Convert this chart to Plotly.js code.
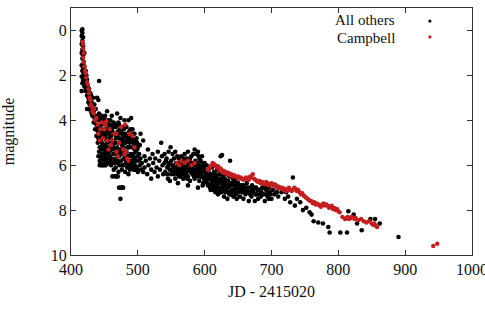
<!DOCTYPE html>
<html>
<head>
<meta charset="utf-8">
<script src="https://cdn.plot.ly/plotly-3.0.1.min.js"></script>
<style>html,body{margin:0;padding:0;background:#fff;}#chart{width:485px;height:310px;}</style>
</head>
<body>
<div id="chart"></div>
<script>
// ---- Data: [JD - 2415020, magnitude] ----
const othersRise = [[416,0.0],[417,-0.05],[417,0.1],[416,0.25],[418,0.3],[417,0.45],[416,0.6],[418,0.7],[417,0.85],[416,1.0],[418,1.1],[417,1.25],[419,1.4],[416,1.55],[418,1.65],[417,1.8],[419,1.9],[416,2.05],[418,2.2],[417,2.35],[416,2.7],[420,1.0],[420,1.6],[421,2.0],[420,2.5],[422,1.8],[422,2.3],[423,2.6],[424,2.2],[424,2.9],[425,2.5],[426,2.8],[426,3.2],[427,2.6],[428,3.0],[428,3.5],[429,3.3],[430,2.9],[430,3.6],[431,3.2],[432,3.8],[432,3.4],[433,3.0],[434,3.6],[434,4.1],[435,3.3],[436,3.9],[436,4.4],[437,3.5],[438,4.2],[438,4.7],[439,3.8],[440,4.5],[440,5.0],[441,3.1],[442,2.25],[441,4.0],[439,3.0],[424,3.5],[421,2.4],[423,2.0],[425,2.9],[427,3.1],[429,2.8],[431,3.7],[433,3.5],[435,3.9],[437,4.0],[439,4.4],[419,2.0],[420,2.2],[422,2.7],[426,3.0],[428,3.3]];
const othersDecline = [[442,3.7],[442,4.3],[442,4.9],[442,5.4],[443,5.8],[443,6.0],[444,4.0],[444,4.6],[444,5.2],[445,5.6],[445,6.0],[446,3.8],[446,4.4],[446,5.0],[447,5.5],[448,4.1],[448,4.7],[448,5.3],[448,6.0],[449,5.8],[450,3.9],[450,4.5],[450,5.1],[450,5.6],[451,4.2],[452,4.8],[452,5.4],[452,6.0],[453,4.4],[454,3.6],[454,5.0],[454,5.7],[455,4.6],[455,5.2],[456,4.0],[456,5.9],[457,4.8],[457,5.4],[458,4.3],[458,5.6],[459,5.0],[460,4.2],[460,4.7],[460,5.3],[460,6.0],[461,3.8],[461,5.7],[462,4.5],[462,5.1],[462,6.5],[463,4.9],[463,5.5],[464,4.1],[464,6.2],[465,4.6],[465,5.3],[466,5.0],[466,5.8],[466,6.5],[467,4.3],[467,6.1],[468,4.8],[468,5.5],[469,3.7],[469,5.2],[470,4.5],[470,5.9],[470,6.5],[471,5.0],[471,6.3],[472,4.2],[472,5.6],[472,7.0],[473,4.8],[473,6.0],[474,3.9],[474,5.3],[474,7.5],[475,4.5],[475,5.8],[475,7.0],[476,5.1],[476,6.2],[477,4.3],[477,5.5],[478,4.8],[478,6.0],[478,7.0],[479,5.2],[480,4.0],[480,5.7],[481,4.6],[481,6.3],[482,5.0],[482,5.9],[483,4.3],[483,5.4],[484,6.1],[485,4.8],[485,5.6],[486,5.2],[486,6.4],[487,4.5],[487,5.9],[488,5.0],[488,6.2],[489,5.5],[490,3.9],[490,4.7],[490,5.8],[491,5.2],[492,4.4],[492,6.0],[493,5.5],[494,4.9],[494,6.2],[495,4.6],[495,5.7],[496,5.1],[496,6.0],[497,5.4],[498,4.8],[498,6.1],[499,5.6],[443,4.5],[445,4.9],[447,4.0],[449,4.6],[451,5.3],[453,5.9],[455,4.1],[457,5.9],[459,4.5],[461,5.0],[463,4.3],[465,5.9],[467,5.3],[469,4.7],[471,4.1],[473,5.4],[476,4.6],[479,4.4],[481,5.4],[484,4.9],[486,4.0],[489,4.9],[491,6.1],[493,4.6],[497,6.2],[499,5.0],[444,5.9],[446,5.7],[447,6.0],[450,6.0],[452,5.75],[468,6.5],[476,7.0]];
const othersDense = [[441,4.8],[441,5.6],[443,3.9],[443,5.2],[445,4.2],[445,4.7],[445,5.3],[447,4.6],[447,5.1],[449,4.0],[449,5.2],[449,5.5],[451,3.8],[451,4.7],[451,5.9],[453,4.9],[453,5.2],[455,5.5],[455,5.9],[457,4.2],[457,4.5],[459,5.3],[459,5.8],[459,4.0],[461,4.4],[461,5.3],[463,5.2],[463,5.9],[465,4.2],[465,5.0],[467,4.7],[467,5.7],[469,4.2],[469,5.8],[471,4.6],[471,5.5],[473,4.4],[473,5.0],[475,5.0],[475,5.4],[477,4.9],[477,6.0],[479,4.7],[479,5.7],[481,5.0],[483,4.7],[483,5.8],[485,5.2],[485,6.0],[487,5.2],[487,5.6],[489,4.4],[489,6.0],[491,4.8],[491,5.6],[493,5.0],[493,5.9],[495,5.3],[495,6.1],[497,4.9],[497,5.8],[499,5.3],[499,6.2],[504,4.6],[503,5.1],[508,4.9],[542,5.8],[544,6.4],[546,6.0],[551,6.2],[554,6.4],[557,6.3],[559,6.1],[561,6.4],[563,6.3],[567,6.4],[569,5.7],[571,6.1],[572,6.5],[576,5.9],[579,6.0],[581,6.3],[584,6.5],[587,6.0],[589,6.5],[591,5.6],[593,6.5],[595,6.1],[597,5.9],[599,6.6],[603,6.4],[605,6.6],[607,6.9],[609,7.1],[611,6.7],[613,6.6],[615,7.0],[617,6.8],[619,7.1],[621,6.7],[623,7.2],[627,6.9],[629,7.0],[631,7.2],[633,6.7],[635,7.0],[637,7.3],[639,6.9],[641,6.8],[643,7.1],[645,6.9],[647,7.3],[649,6.9],[651,7.1],[657,7.0],[659,7.2],[664,7.0],[667,7.2],[674,7.0],[679,7.1],[685,7.2],[691,7.0],[697,7.2]];
const othersPlateau = [[500,5.2],[500,6.3],[501,5.8],[502,5.5],[503,6.0],[504,5.7],[505,6.2],[506,5.9],[508,6.3],[510,5.6],[510,6.1],[512,5.8],[514,6.4],[515,5.3],[516,6.0],[518,5.7],[520,6.2],[520,6.6],[522,5.5],[523,5.9],[525,6.3],[526,5.7],[528,6.1],[530,5.4],[530,6.5],[532,5.8],[533,6.2],[535,5.0],[536,5.6],[537,6.0],[538,6.4],[540,5.5],[540,5.9],[541,6.3],[543,5.7],[544,6.1],[545,6.6],[546,5.4],[547,5.9],[548,6.2],[549,5.2],[550,5.8],[550,6.4],[552,5.5],[552,6.0],[553,6.3],[554,5.7],[555,6.1],[556,5.4],[556,6.6],[557,5.9],[558,6.2],[559,5.6],[560,6.0],[560,6.4],[561,5.7],[562,6.2],[563,5.9],[564,6.5],[565,5.6],[565,6.1],[566,6.3],[567,5.8],[568,6.0],[568,6.6],[569,6.2],[570,5.5],[570,5.9],[571,6.4],[572,6.1],[573,5.7],[573,6.3],[574,6.0],[575,5.4],[575,6.5],[576,6.2],[577,5.8],[578,6.0],[578,6.7],[579,6.3],[580,5.6],[580,6.1],[581,5.9],[582,6.4],[583,5.5],[583,6.2],[584,6.0],[585,5.3],[585,6.6],[586,5.8],[587,6.3],[588,5.5],[588,6.1],[589,5.9],[590,5.4],[590,6.4],[591,6.0],[592,5.7],[592,6.7],[593,6.2],[594,5.8],[595,6.5],[596,6.0],[596,5.6],[597,6.3],[598,6.8],[599,6.1],[600,5.9],[600,6.5],[548,6.7],[560,6.8],[575,6.9],[590,7.0],[597,6.9],[562,6.5],[566,5.9],[570,6.3],[574,6.6],[578,5.7],[582,6.0],[586,6.5],[590,6.2],[594,6.4],[598,6.2]];
const othersTail = [[601,6.3],[602,6.7],[603,6.0],[604,6.5],[605,6.9],[606,6.2],[607,6.6],[608,7.0],[609,6.4],[610,6.8],[611,6.1],[612,6.5],[613,7.1],[614,6.3],[615,6.7],[616,7.2],[617,6.5],[618,6.9],[619,6.2],[620,6.6],[620,7.3],[621,7.0],[622,6.4],[623,6.8],[624,5.6],[625,6.6],[625,7.2],[626,7.0],[627,6.5],[628,6.8],[629,7.4],[630,6.6],[630,7.1],[631,6.9],[632,6.4],[633,7.0],[634,7.5],[635,6.7],[636,7.2],[637,6.5],[638,6.9],[639,7.3],[640,6.8],[641,7.1],[642,6.6],[643,7.4],[644,6.9],[645,7.2],[646,6.7],[647,7.0],[648,7.5],[650,6.8],[650,7.2],[652,7.0],[653,7.4],[655,6.9],[656,7.2],[658,7.5],[660,7.0],[661,7.3],[663,6.8],[665,7.2],[666,7.6],[668,7.0],[670,7.4],[671,6.9],[673,7.2],[675,7.6],[677,7.0],[678,7.3],[680,7.5],[682,7.1],[684,7.4],[686,7.0],[688,7.3],[690,7.6],[692,7.1],[694,7.4],[696,7.0],[698,7.3],[700,7.5],[702,7.1],[704,7.3],[604,6.8],[608,6.4],[612,6.9],[616,6.4],[618,6.6],[622,7.1],[626,6.7],[632,6.8],[636,6.9],[640,7.2],[644,6.6],[648,7.0],[654,7.1],[658,6.9],[662,7.1],[668,7.3],[672,7.1],[676,7.3],[682,7.3],[688,7.0],[692,7.3],[696,7.5],[626,5.55],[638,5.8],[706,6.9],[708,7.2],[710,7.4],[712,7.0],[715,7.2],[718,7.1],[720,7.5],[722,7.2],[725,7.4],[728,7.65],[732,6.55],[735,7.8],[738,7.5],[743,7.65],[747,8.0],[752,7.9],[757,8.1],[760,8.2],[763,8.5],[770,8.55],[777,8.6],[785,8.75],[787,9.0],[803,9.0],[813,9.0],[815,8.05],[823,8.2],[825,8.35],[828,8.6],[835,8.9],[848,8.4],[855,8.4],[862,8.6],[890,9.2]];
const campbellEarly = [[417,0.5],[418,0.6],[418,0.8],[419,1.0],[418,1.2],[419,1.4],[420,1.6],[421,1.8],[422,1.9],[423,2.1],[424,2.3],[425,2.4],[426,2.6],[427,2.8],[428,3.0],[429,3.1],[430,3.3],[431,3.4],[432,3.6],[434,3.7],[435,3.5],[436,4.0],[438,3.9],[440,4.2],[441,4.6],[443,4.9],[444,4.4],[446,4.1],[448,4.8],[450,4.4],[451,4.2],[452,4.1],[454,4.9],[456,5.3],[458,4.4],[460,5.1],[462,4.9],[465,4.6],[468,5.4],[470,5.6],[472,5.0],[475,4.3],[478,5.3],[480,5.5],[482,5.4],[484,5.7],[488,4.6],[492,4.7],[495,5.2],[481,4.2],[486,5.8],[453,4.05],[468,4.6]];
const campbellLate = [[558,5.9],[562,6.0],[565,5.8],[570,5.9],[575,5.8],[580,6.0],[585,5.9],[605,6.2],[608,6.1],[610,6.0],[612,5.9],[614,5.95],[616,6.0],[618,6.1],[620,6.05],[622,6.2],[624,6.15],[626,6.3],[628,6.25],[630,6.35],[632,6.3],[634,6.4],[636,6.35],[638,6.45],[640,6.4],[642,6.5],[644,6.45],[646,6.5],[648,6.55],[650,6.5],[652,6.6],[654,6.55],[656,6.6],[658,6.65],[660,6.6],[662,6.55],[664,6.6],[666,6.65],[668,6.5],[670,6.55],[672,6.4],[674,6.6],[676,6.65],[678,6.7],[680,6.75],[682,6.7],[684,6.8],[686,6.75],[688,6.8],[690,6.85],[692,6.75],[694,6.8],[696,6.9],[698,6.85],[700,6.8],[702,6.9],[704,6.85],[706,6.9],[708,7.0],[710,6.95],[712,7.0],[714,7.05],[716,7.0],[718,7.1],[720,7.05],[722,7.15],[724,7.1],[726,7.0],[728,7.1],[730,7.15],[732,7.1],[734,7.0],[736,7.05],[738,7.15],[740,7.1],[742,7.2],[744,7.3],[746,7.25],[748,7.35],[750,7.4],[752,7.45],[754,7.5],[756,7.55],[758,7.6],[760,7.6],[762,7.7],[764,7.65],[766,7.75],[768,7.7],[770,7.75],[772,7.8],[774,7.85],[776,7.75],[778,7.7],[780,7.8],[782,7.75],[784,7.8],[786,7.9],[788,7.85],[790,7.8],[792,7.95],[794,7.9],[796,8.0],[798,7.95],[800,8.05],[802,8.1],[806,8.3],[810,8.4],[812,8.35],[814,8.3],[816,8.4],[818,8.35],[820,8.3],[824,8.4],[826,8.35],[830,8.45],[834,8.4],[838,8.5],[842,8.55],[846,8.5],[850,8.6],[852,8.65],[854,8.6],[856,8.7],[858,8.75],[942,9.6],[948,9.5]];

const seriesNames = ['All others', 'Campbell'];
const xTicks = [400, 500, 600, 700, 800, 900, 1000];
const yTicks = [0, 2, 4, 6, 8, 10];

const others = othersRise.concat(othersDecline, othersDense, othersPlateau, othersTail);
const campbell = campbellEarly.concat(campbellLate);

const font = 'Liberation Serif, Times New Roman, serif';
const red = '#c41e1e';
const traces = [
  {x: others.map(p => p[0]), y: others.map(p => p[1]), name: seriesNames[0], type: 'scatter', mode: 'markers',
   marker: {color: '#000000', size: 4.6}},
  {x: campbell.map(p => p[0]), y: campbell.map(p => p[1]), name: seriesNames[1], type: 'scatter', mode: 'markers',
   marker: {color: red, size: 4.4}}
];

const axisCommon = {showline: true, mirror: 'ticks', linecolor: '#333', linewidth: 1, ticks: 'inside', ticklen: 5,
  tickcolor: '#333', showgrid: false, zeroline: false, ticklabeloverflow: 'allow',
  tickfont: {family: font, size: 16, color: '#111'}};

const layout = {
  width: 485, height: 310,
  margin: {l: 71, r: 13, t: 8, b: 55},
  paper_bgcolor: '#fff', plot_bgcolor: '#fff',
  showlegend: false,
  font: {family: font, color: '#111'},
  xaxis: Object.assign({}, axisCommon, {range: [400, 1000], tickvals: xTicks, ticktext: xTicks.map(String),
    title: {text: 'JD - 2415020', font: {family: font, size: 16, color: '#111'}, standoff: 8}}),
  yaxis: Object.assign({}, axisCommon, {range: [10, -1], tickvals: yTicks, ticktext: yTicks.map(String),
    title: {text: 'magnitude', font: {family: font, size: 16, color: '#111'}, standoff: 33}}),
  annotations: [
    {xref: 'paper', yref: 'paper', x: 0.813, y: 0.953, xanchor: 'right', yanchor: 'middle', showarrow: false,
     text: seriesNames[0], font: {family: font, size: 15, color: '#111'}},
    {xref: 'paper', yref: 'paper', x: 0.813, y: 0.879, xanchor: 'right', yanchor: 'middle', showarrow: false,
     text: seriesNames[1], font: {family: font, size: 15, color: '#111'}}
  ],
  shapes: [
    {type: 'circle', xref: 'paper', yref: 'paper', xsizemode: 'pixel', ysizemode: 'pixel', xanchor: 0.895, yanchor: 0.947,
     x0: -1.6, x1: 1.6, y0: -1.6, y1: 1.6, fillcolor: '#000', line: {width: 0}},
    {type: 'circle', xref: 'paper', yref: 'paper', xsizemode: 'pixel', ysizemode: 'pixel', xanchor: 0.895, yanchor: 0.883,
     x0: -1.6, x1: 1.6, y0: -1.6, y1: 1.6, fillcolor: red, line: {width: 0}}
  ]
};

Plotly.newPlot('chart', traces, layout, {displayModeBar: false, staticPlot: true});
</script>
</body>
</html>
